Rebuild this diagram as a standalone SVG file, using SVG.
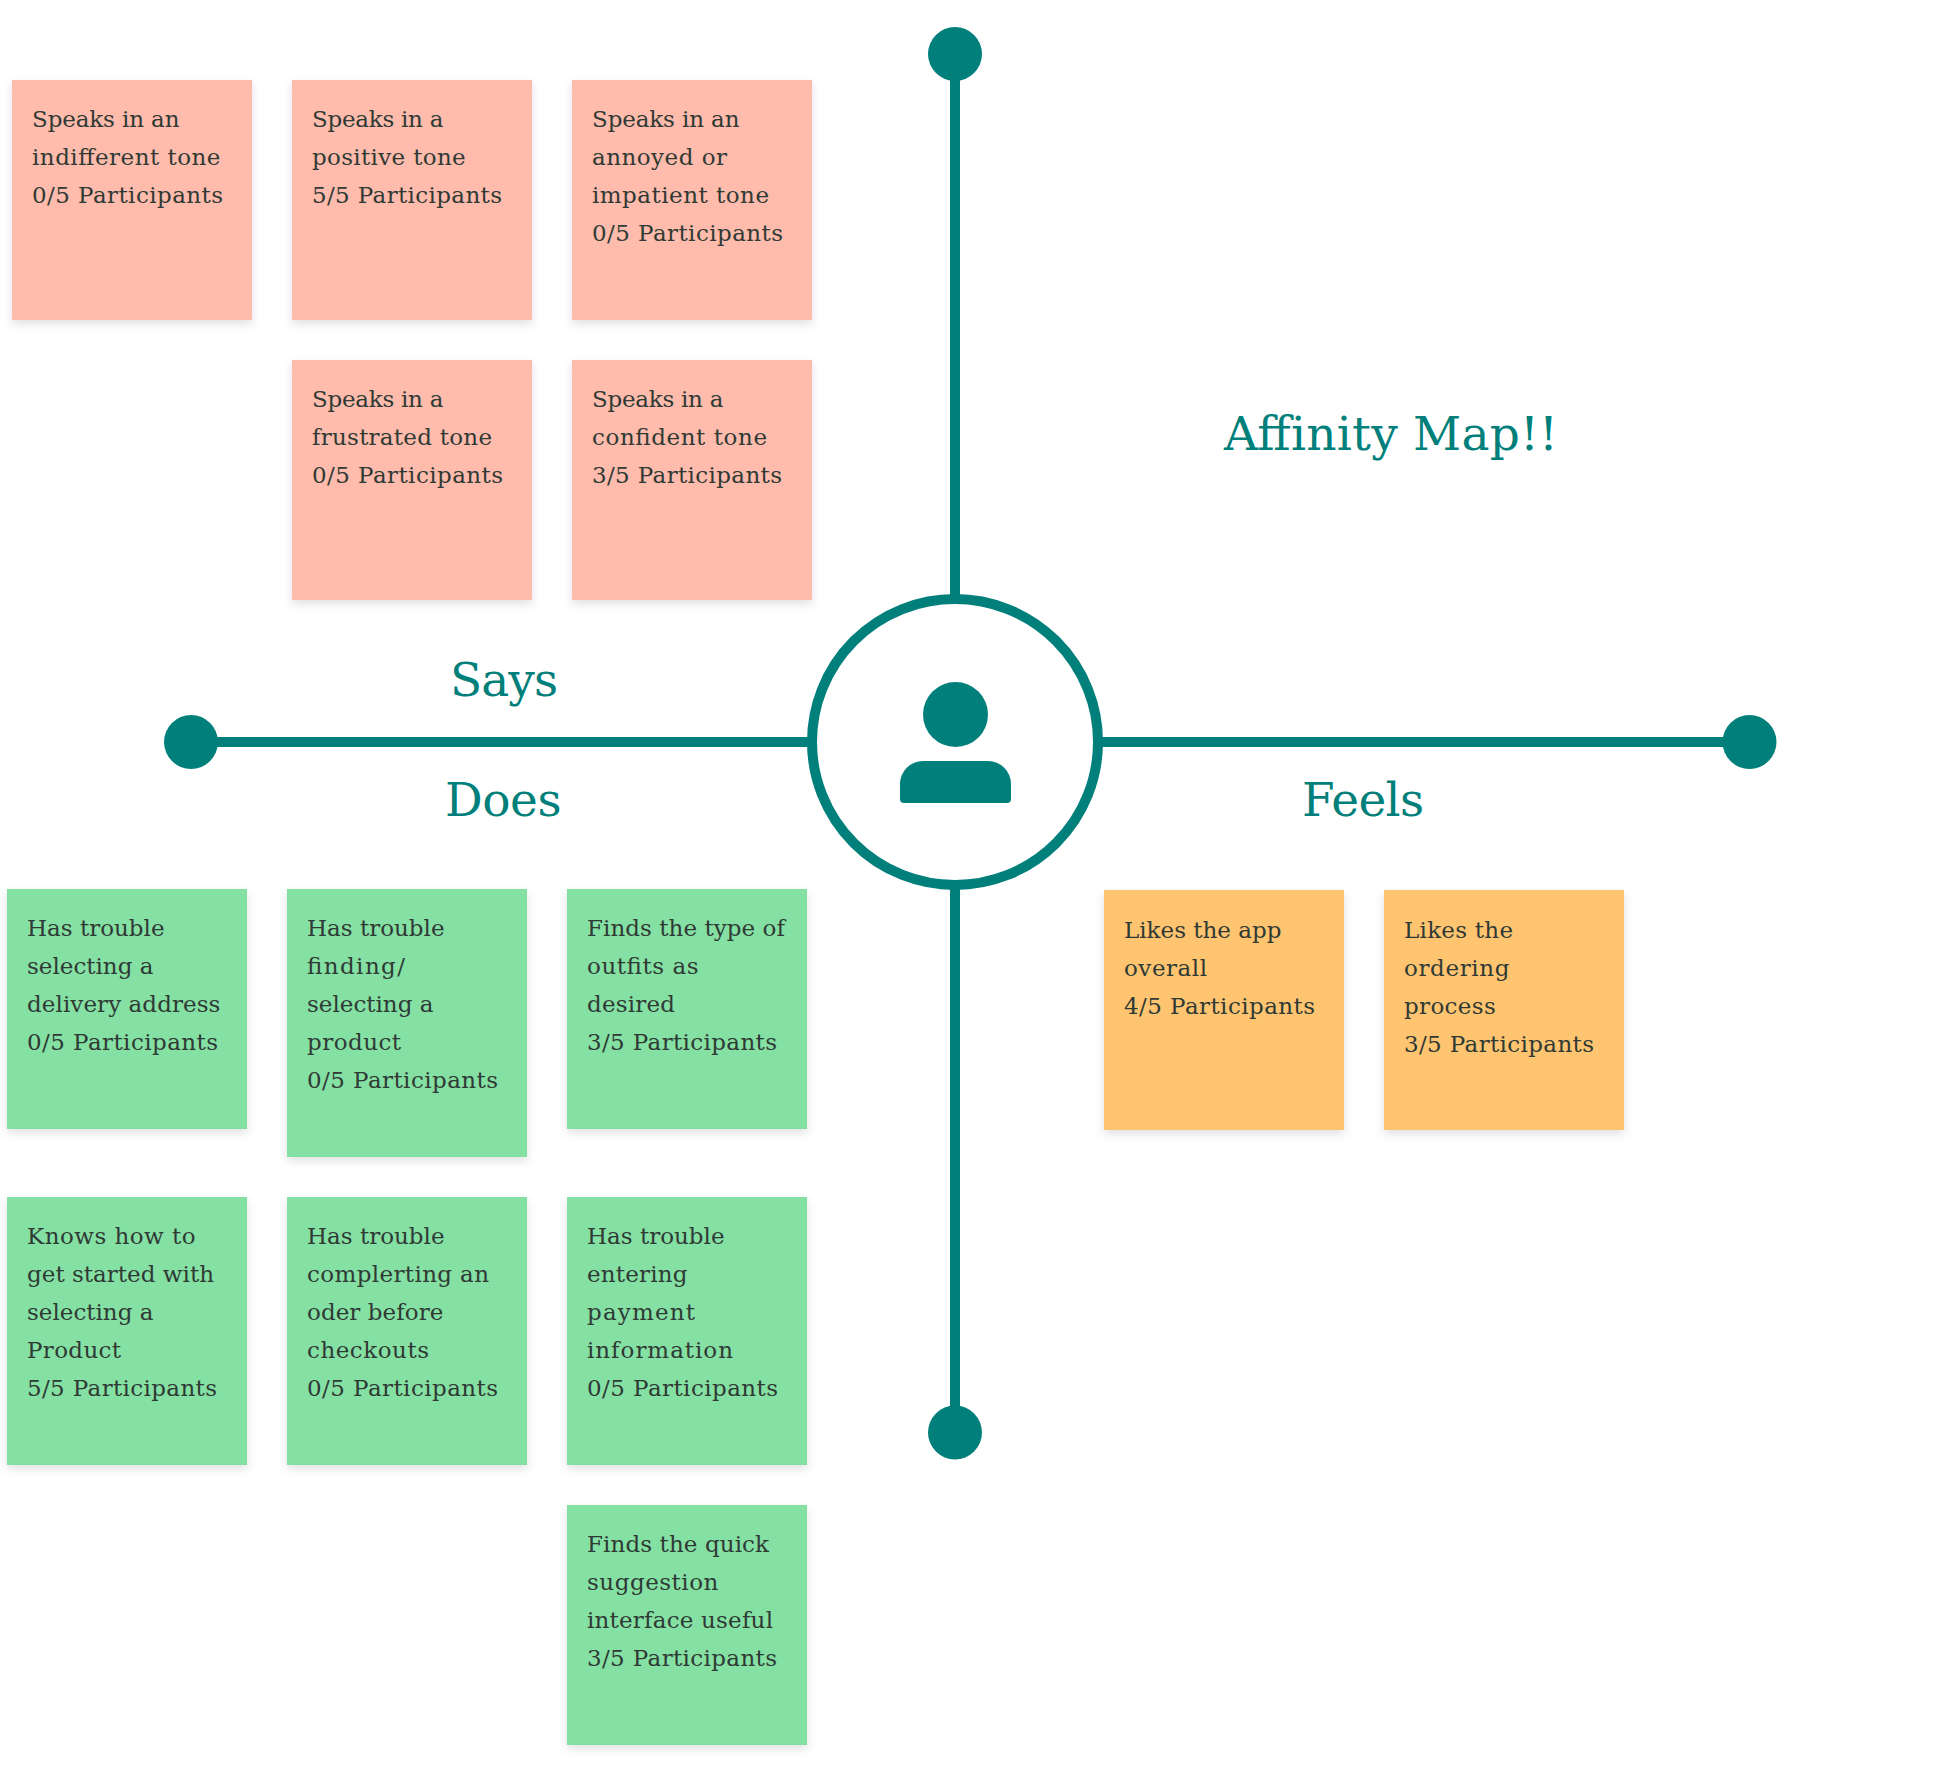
<svg xmlns="http://www.w3.org/2000/svg" width="1940" height="1787" viewBox="0 0 1940 1787">
<defs>
<filter id="sh" x="-10%" y="-10%" width="120%" height="120%"><feDropShadow dx="0" dy="4" stdDeviation="5" flood-color="#000" flood-opacity="0.12"/></filter>
</defs>
<style>
.pink{fill:#FFBBAB;filter:url(#sh)}
.green{fill:#85E0A3;filter:url(#sh)}
.orange{fill:#FFC46F;filter:url(#sh)}
.t{font-family:"DejaVu Serif","Liberation Serif",serif;font-size:23px;fill:#2F3A35}
.h{font-family:"DejaVu Serif","Liberation Serif",serif;font-size:47px;fill:#007F7B}
.l{stroke:#007F7B;stroke-width:10;fill:none}
.d{fill:#007F7B}
</style>
<rect width="1940" height="1787" fill="#fff"/>
<g id="connectors">
<line class="l" x1="955" y1="54" x2="955" y2="600"/>
<line class="l" x1="955" y1="885" x2="955" y2="1432.5"/>
<line class="l" x1="191" y1="742" x2="810" y2="742"/>
<line class="l" x1="1100" y1="742" x2="1749.5" y2="742"/>
<circle class="d" cx="955" cy="54" r="27"/>
<circle class="d" cx="955" cy="1432.5" r="27"/>
<circle class="d" cx="191" cy="742" r="27"/>
<circle class="d" cx="1749.5" cy="742" r="27"/>
</g>
<g id="center">
<circle cx="955" cy="742" r="143" fill="#fff" stroke="#007F7B" stroke-width="10"/>
<circle class="d" cx="955.5" cy="714.5" r="32.5"/>
<path class="d" d="M900 799V784a23 23 0 0 1 23-23h65a23 23 0 0 1 23 23v15a4 4 0 0 1-4 4h-103a4 4 0 0 1-4-4z"/>
</g>
<g id="title"><text class="h" x="1224" y="450" textLength="334">Affinity Map!!</text></g>
<g id="says"><text class="h" x="450" y="696" textLength="108">Says</text></g>
<g id="does"><text class="h" x="445" y="816" textLength="116.5">Does</text></g>
<g id="feels"><text class="h" x="1302" y="816" textLength="122">Feels</text></g>

<g id="s1"><rect class="pink" x="12" y="80" width="240" height="240"/>
<text class="t" x="32" y="127" textLength="147.5">Speaks in an</text><text class="t" x="32" y="165" textLength="188.4">indifferent tone</text><text class="t" x="32" y="203" textLength="191">0/5 Participants</text></g>
<g id="s2"><rect class="pink" x="292" y="80" width="240" height="240"/>
<text class="t" x="312" y="127" textLength="131.4">Speaks in a</text><text class="t" x="312" y="165" textLength="153.7">positive tone</text><text class="t" x="312" y="203" textLength="190">5/5 Participants</text></g>
<g id="s3"><rect class="pink" x="572" y="80" width="240" height="240"/>
<text class="t" x="592" y="127" textLength="147.5">Speaks in an</text><text class="t" x="592" y="165" textLength="135">annoyed or</text><text class="t" x="592" y="203" textLength="177">impatient tone</text><text class="t" x="592" y="241" textLength="191">0/5 Participants</text></g>
<g id="s4"><rect class="pink" x="292" y="360" width="240" height="240"/>
<text class="t" x="312" y="407" textLength="131.4">Speaks in a</text><text class="t" x="312" y="445" textLength="180">frustrated tone</text><text class="t" x="312" y="483" textLength="191">0/5 Participants</text></g>
<g id="s5"><rect class="pink" x="572" y="360" width="240" height="240"/>
<text class="t" x="592" y="407" textLength="131.4">Speaks in a</text><text class="t" x="592" y="445" textLength="175">confident tone</text><text class="t" x="592" y="483" textLength="190">3/5 Participants</text></g>

<g id="d1"><rect class="green" x="7" y="889" width="240" height="240"/>
<text class="t" x="27" y="936" textLength="137.6">Has trouble</text><text class="t" x="27" y="974" textLength="126.4">selecting a</text><text class="t" x="27" y="1012" textLength="193.4">delivery address</text><text class="t" x="27" y="1050" textLength="191">0/5 Participants</text></g>
<g id="d2"><rect class="green" x="287" y="889" width="240" height="268"/>
<text class="t" x="307" y="936" textLength="137.6">Has trouble</text><text class="t" x="307" y="974" textLength="98">finding/</text><text class="t" x="307" y="1012" textLength="126.4">selecting a</text><text class="t" x="307" y="1050" textLength="94">product</text><text class="t" x="307" y="1088" textLength="191">0/5 Participants</text></g>
<g id="d3"><rect class="green" x="567" y="889" width="240" height="240"/>
<text class="t" x="587" y="936" textLength="198">Finds the type of</text><text class="t" x="587" y="974" textLength="111.6">outfits as</text><text class="t" x="587" y="1012" textLength="88">desired</text><text class="t" x="587" y="1050" textLength="190">3/5 Participants</text></g>
<g id="d4"><rect class="green" x="7" y="1197" width="240" height="268"/>
<text class="t" x="27" y="1244" textLength="168.6">Knows how to</text><text class="t" x="27" y="1282" textLength="187">get started with</text><text class="t" x="27" y="1320" textLength="126.4">selecting a</text><text class="t" x="27" y="1358" textLength="94">Product</text><text class="t" x="27" y="1396" textLength="190">5/5 Participants</text></g>
<g id="d5"><rect class="green" x="287" y="1197" width="240" height="268"/>
<text class="t" x="307" y="1244" textLength="137.6">Has trouble</text><text class="t" x="307" y="1282" textLength="182">complerting an</text><text class="t" x="307" y="1320" textLength="136.4">oder before</text><text class="t" x="307" y="1358" textLength="122">checkouts</text><text class="t" x="307" y="1396" textLength="191">0/5 Participants</text></g>
<g id="d6"><rect class="green" x="567" y="1197" width="240" height="268"/>
<text class="t" x="587" y="1244" textLength="137.6">Has trouble</text><text class="t" x="587" y="1282" textLength="100.4">entering</text><text class="t" x="587" y="1320" textLength="108">payment</text><text class="t" x="587" y="1358" textLength="146">information</text><text class="t" x="587" y="1396" textLength="191">0/5 Participants</text></g>
<g id="d7"><rect class="green" x="567" y="1505" width="240" height="240"/>
<text class="t" x="587" y="1552" textLength="182">Finds the quick</text><text class="t" x="587" y="1590" textLength="131.4">suggestion</text><text class="t" x="587" y="1628" textLength="186">interface useful</text><text class="t" x="587" y="1666" textLength="190">3/5 Participants</text></g>

<g id="f1"><rect class="orange" x="1104" y="890" width="240" height="240"/>
<text class="t" x="1124" y="938" textLength="157.4">Likes the app</text><text class="t" x="1124" y="976" textLength="83">overall</text><text class="t" x="1124" y="1014" textLength="191">4/5 Participants</text></g>
<g id="f2"><rect class="orange" x="1384" y="890" width="240" height="240"/>
<text class="t" x="1404" y="938" textLength="109">Likes the</text><text class="t" x="1404" y="976" textLength="105.4">ordering</text><text class="t" x="1404" y="1014" textLength="91.7">process</text><text class="t" x="1404" y="1052" textLength="190">3/5 Participants</text></g>
</svg>
